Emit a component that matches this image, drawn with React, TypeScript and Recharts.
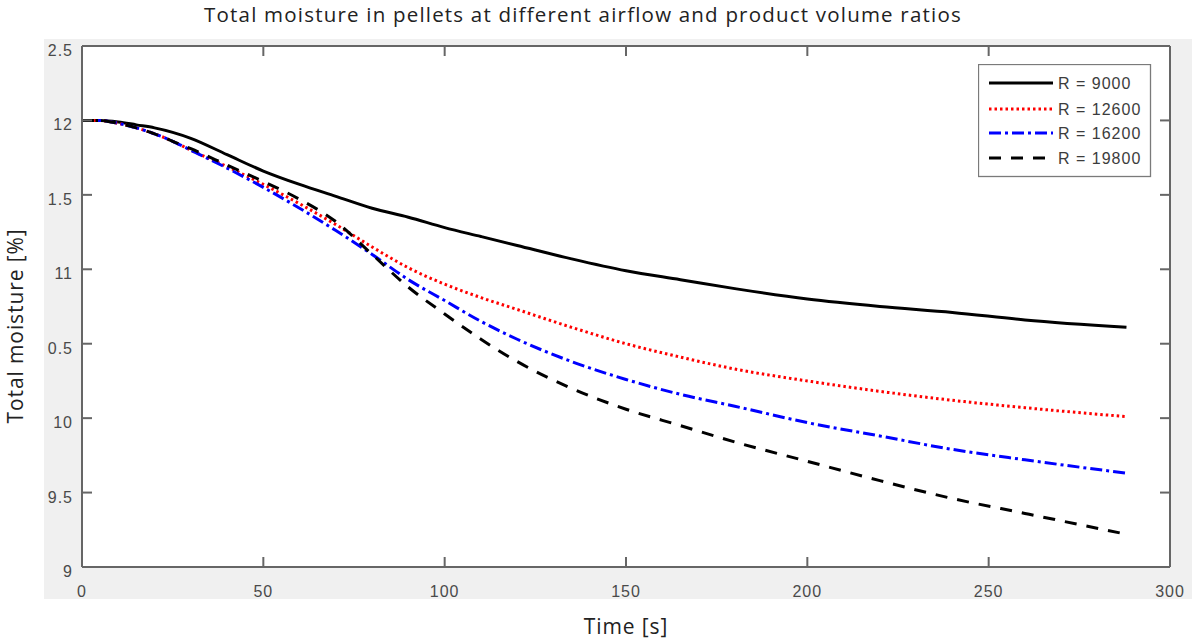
import React from "react";
import { LineChart, Line, XAxis, YAxis, Legend } from "recharts";

// time axis [s]
const time = [0, 5, 10, 15, 20, 25, 30, 40, 50, 60, 70, 80, 90, 100, 110, 120, 135, 150, 165, 180, 200, 220, 240, 260, 288];

// total moisture per airflow/product volume ratio
const r9000 = [12, 12, 11.99, 11.97, 11.95, 11.92, 11.88, 11.77, 11.66, 11.57, 11.49, 11.41, 11.35, 11.28, 11.22, 11.16, 11.07, 10.99, 10.93, 10.87, 10.8, 10.75, 10.71, 10.66, 10.61];
const r12600 = [12, 12, 11.98, 11.95, 11.91, 11.86, 11.8, 11.69, 11.57, 11.44, 11.3, 11.15, 11.01, 10.9, 10.81, 10.73, 10.61, 10.5, 10.41, 10.33, 10.25, 10.18, 10.12, 10.07, 10.01];
const r16200 = [12, 12, 11.98, 11.95, 11.91, 11.86, 11.8, 11.68, 11.55, 11.41, 11.26, 11.1, 10.93, 10.79, 10.65, 10.53, 10.38, 10.26, 10.16, 10.08, 9.97, 9.88, 9.79, 9.72, 9.63];
const r19800 = [12, 12, 11.98, 11.95, 11.91, 11.86, 11.81, 11.7, 11.59, 11.47, 11.32, 11.1, 10.88, 10.7, 10.53, 10.38, 10.2, 10.06, 9.95, 9.84, 9.71, 9.58, 9.46, 9.36, 9.22];

const xTicks = [0, 50, 100, 150, 200, 250, 300];
const yTicks = [9, 9.5, 10, 10.5, 11, 11.5, 12, 12.5];
const yTickLabels = ["9", "9.5", "10", "0.5", "11", "1.5", "12", "2.5"];

const series = [
  { key: "r9000", name: "R = 9000", color: "#000000", dash: undefined as string | undefined },
  { key: "r12600", name: "R = 12600", color: "#ff0000", dash: "2.5 3" },
  { key: "r16200", name: "R = 16200", color: "#0000ff", dash: "12 4 3 4" },
  { key: "r19800", name: "R = 19800", color: "#000000", dash: "12 10" },
];

const data = time.map((t, i) => ({
  t,
  r9000: r9000[i],
  r12600: r12600[i],
  r16200: r16200[i],
  r19800: r19800[i],
}));

const axisColor = "#666666";
const TICK_LEN = 10;
const TICK_W = 2;
const numFont = "Liberation Sans, Arial, sans-serif";
const labelFont = "'Open Sans', 'Noto Sans', sans-serif";

// inward ticks, matlab style
function BottomTick({ x, y, payload }: any) {
  return (
    <g>
      <line x1={x} x2={x} y1={y} y2={y - TICK_LEN} stroke={axisColor} strokeWidth={TICK_W} />
      <text x={x} y={y + 30} textAnchor="middle" fontSize={16} fill="#4a4a4a" letterSpacing={1} fontFamily={numFont}>
        {payload.value}
      </text>
    </g>
  );
}

function LeftTick({ x, y, payload }: any) {
  const lbl = yTickLabels[yTicks.indexOf(payload.value)] ?? String(payload.value);
  return (
    <g>
      <line x1={x} x2={x + TICK_LEN} y1={y} y2={y} stroke={axisColor} strokeWidth={TICK_W} />
      <text x={x - 9} y={y + 10} textAnchor="end" fontSize={16} fill="#4a4a4a" letterSpacing={1} fontFamily={numFont}>
        {lbl}
      </text>
    </g>
  );
}

function TopTick({ x, y }: any) {
  return <line x1={x} x2={x} y1={y} y2={y + TICK_LEN} stroke={axisColor} strokeWidth={TICK_W} />;
}

function RightTick({ x, y }: any) {
  return <line x1={x} x2={x - TICK_LEN} y1={y} y2={y} stroke={axisColor} strokeWidth={TICK_W} />;
}

function LegendBox() {
  return (
    <svg width={174} height={114} style={{ display: "block" }}>
      <rect x={0.5} y={0.5} width={172} height={112} fill="#fff" stroke="#7a7a7a" strokeWidth={1.3} />
      {series.map((s, i) => {
        const y = [19, 45, 69, 94][i];
        return (
          <g key={s.key}>
            <line x1={11} x2={75} y1={y} y2={y} stroke={s.color} strokeWidth={3} strokeDasharray={s.dash} />
            <text x={80} y={y + 6} fontSize={16} fill="#3c3c3c" letterSpacing={1} fontFamily={numFont}>
              {s.name}
            </text>
          </g>
        );
      })}
    </svg>
  );
}

export default function App() {
  const axisLine = { stroke: axisColor, strokeWidth: 2 };
  return (
    <div style={{ position: "relative", width: 1192, height: 640, background: "#fff", overflow: "hidden" }}>
      <style>{`body{margin:0}`}</style>
      <div style={{ position: "absolute", left: 44, top: 39, width: 1148, height: 560, background: "#f0f0f0" }} />
      <div style={{ position: "absolute", left: 82, top: 46, width: 1088, height: 521, background: "#ffffff" }} />
      <div style={{
        position: "absolute", left: 0, top: 0, width: 1166, textAlign: "center",
        fontFamily: labelFont, fontSize: 20.5, lineHeight: "normal", letterSpacing: 1.2, color: "#222",
        whiteSpace: "nowrap",
      }}>
        Total moisture in pellets at different airflow and product volume ratios
      </div>
      <div style={{
        position: "absolute", left: 15, top: 326, transform: "translate(-50%, -50%) rotate(-90deg)",
        fontFamily: labelFont, fontSize: 21, lineHeight: "24px", letterSpacing: 0.9, color: "#222",
        whiteSpace: "nowrap",
      }}>
        Total moisture [%]
      </div>
      <div style={{ position: "absolute", left: 0, top: 0 }}>
        <LineChart width={1192} height={640} data={data} margin={{ top: 38, right: 0, bottom: 41, left: 44 }}>
          <XAxis
            dataKey="t" type="number" domain={[0, 300]} ticks={xTicks} height={32} interval={0}
            axisLine={axisLine} tickLine={false} tickSize={0} tickMargin={0} tick={<BottomTick />}
            label={{ value: "Time [s]", position: "bottom", offset: 20, style: { fontFamily: labelFont, fontSize: 21, letterSpacing: 0.9, fill: "#222" } }}
          />
          <XAxis
            xAxisId="top" dataKey="t" orientation="top" type="number" domain={[0, 300]} ticks={xTicks} height={8} interval={0}
            axisLine={axisLine} tickLine={false} tickSize={0} tickMargin={0} tick={<TopTick />}
          />
          <YAxis
            type="number" domain={[9, 12.5]} ticks={yTicks} width={38} interval={0}
            axisLine={axisLine} tickLine={false} tickSize={0} tickMargin={0} tick={<LeftTick />}
          />
          <YAxis
            yAxisId="right" orientation="right" type="number" domain={[9, 12.5]} ticks={yTicks} width={22} interval={0}
            axisLine={axisLine} tickLine={false} tickSize={0} tickMargin={0} tick={<RightTick />}
          />
          <Legend
            layout="vertical" align="center" verticalAlign="middle"
            wrapperStyle={{ position: "absolute", left: 978, top: 64, width: 174, height: 114 }}
            content={() => <LegendBox />}
          />
          {/* invisible series so the box axes (top/right) get their scales */}
          <Line
            dataKey="r9000" xAxisId="top" yAxisId="right" stroke="none" legendType="none"
            dot={false} activeDot={false} isAnimationActive={false}
          />
          {series.map(s => (
            <Line
              key={s.key} dataKey={s.key} name={s.name} type="monotone"
              stroke={s.color} strokeWidth={3} strokeDasharray={s.dash}
              dot={false} activeDot={false} isAnimationActive={false}
            />
          ))}
        </LineChart>
      </div>
    </div>
  );
}
